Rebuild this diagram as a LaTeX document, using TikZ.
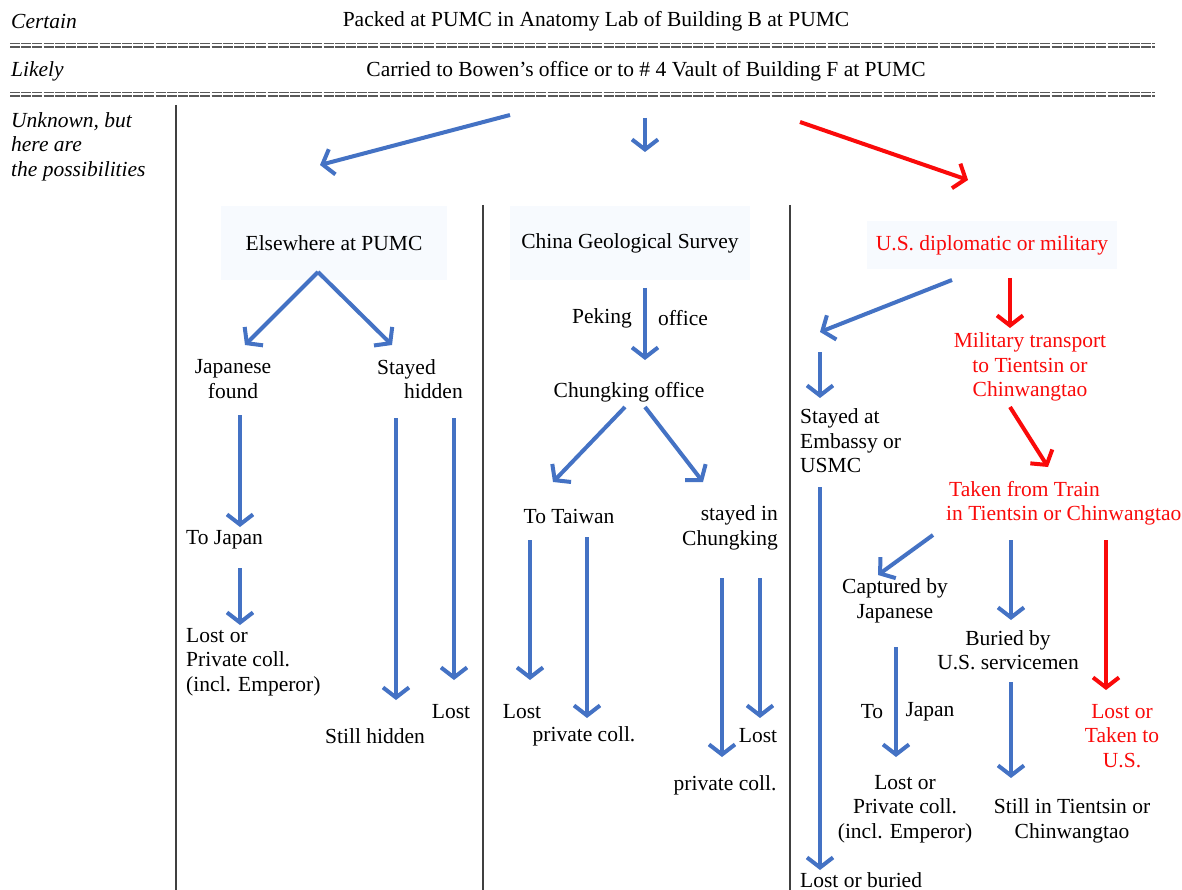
\documentclass[tikz,border=0pt]{standalone}
\usepackage{fontspec}
\setmainfont{Liberation Serif}
\usetikzlibrary{arrows.meta,calc}
\definecolor{arrblue}{RGB}{68,114,196}
\definecolor{arrred}{RGB}{250,10,10}
\definecolor{tint}{RGB}{247,250,254}
\tikzset{
  lbl/.style={inner sep=0pt, font=\fontsize{21.5}{24.5}\selectfont},
  italbl/.style={inner sep=0pt, font=\fontsize{21.5}{24.5}\selectfont\itshape},
  redlbl/.style={lbl, text=arrred},
  tintbox/.style={fill=tint, minimum height=74pt},
  flow/.style={line width=4pt, -{Straight Barb[length=10pt,width=26pt]}},
  bluearr/.style={flow, draw=arrblue},
  redarr/.style={flow, draw=arrred},
  colrule/.style={line width=1.3pt, black!75},
  seprule/.style={line width=1.4pt, black!65, dash pattern=on 10pt off 1.2pt}
}

\begin{document}
\begin{tikzpicture}[x=1pt,y=-1pt]
  \useasboundingbox[fill=white] (0,0) rectangle (1182,890);

  % levels
  \node[italbl,anchor=west] (certain) at (11,21) {Certain};
  \node[italbl,anchor=west] (likely) at (11,71) {Likely};
  \node[italbl,anchor=west,align=left] (unknown) at (11,146.5) {Unknown, but\\here are\\the possibilities};

  \node[lbl] (packed) at (596,21) {Packed at PUMC in Anatomy Lab of Building B at PUMC};
  \node[lbl] (carried) at (646,71) {Carried to Bowen's office or to \# 4 Vault of Building F at PUMC};

  \foreach \y in {43.5,47,92.5,96}
    \draw[seprule] (10,\y) -- (1155,\y);

  \draw[colrule] (176,105) -- (176,890);
  \draw[colrule] (483,205) -- (483,890);
  \draw[colrule] (790,205) -- (790,890);

  % column 1
  \node[lbl,tintbox,minimum width=226pt] (elsewhere) at (334,243) {Elsewhere at PUMC};
  \node[lbl,align=center] (japfound) at (233,379) {Japanese\\found};
  \node[lbl,align=left] (stayed) at (420,379) {Stayed\\\hspace*{27pt}hidden};
  \node[lbl,anchor=west] (tojapan) at (186,540) {To Japan};
  \node[lbl,anchor=west,align=left] (lostpriv) at (186,662) {Lost or\\Private coll.\\(incl. Emperor)};
  \node[lbl] (stillhidden) at (375,736) {Still hidden};
  \node[lbl] (lostA) at (451,712) {Lost};

  % column 2
  \node[lbl,tintbox,minimum width=240pt] (survey) at (630,243) {China Geological Survey};
  \node[lbl] (peking) at (602,318) {Peking};
  \node[lbl] (office) at (683,318) {office};
  \node[lbl] (chungking) at (629,392) {Chungking office};
  \node[lbl] (taiwan) at (569,516) {To Taiwan};
  \node[lbl,anchor=east,align=right] (stayedin) at (778,528) {stayed in\\Chungking};
  \node[lbl] (lostB) at (522,712) {Lost};
  \node[lbl] (privB) at (584,736) {private coll.};
  \node[lbl] (privC) at (725,785) {private coll.};
  \node[lbl] (lostC) at (758,736) {Lost};

  % column 3
  \node[redlbl,tintbox,minimum width=250pt,minimum height=48pt] (usdip) at (992,245) {U.S. diplomatic or military};
  \node[redlbl,align=center] (military) at (1030,367) {Military transport\\to Tientsin or\\Chinwangtao};
  \node[lbl,anchor=west,align=left] (embassy) at (800,441) {Stayed at\\Embassy or\\USMC};
  \node[redlbl,anchor=west,align=left] (train) at (946,503) {\hspace*{3pt}Taken from Train\\in Tientsin or Chinwangtao};
  \node[lbl,align=center] (captured) at (895,601) {Captured by\\Japanese};
  \node[lbl,align=center] (buried) at (1008,650) {Buried by\\U.S. servicemen};
  \node[redlbl,align=center] (lostus) at (1122,736) {Lost or\\Taken to\\U.S.};
  \node[lbl] (toD) at (872,712) {To};
  \node[lbl] (japanD) at (930,712) {Japan};
  \node[lbl,align=center] (lostprivD) at (905,809) {Lost or\\Private coll.\\(incl. Emperor)};
  \node[lbl,align=center] (stilltien) at (1072,821) {Still in Tientsin or\\Chinwangtao};
  \node[lbl,anchor=west] (lostburied) at (800,880) {Lost or buried};

  % arrows from the top
  \draw[bluearr] ($(carried)+(-136,44)$) -- ($(elsewhere)+(-14,-78)$);
  \draw[bluearr] ($(carried)+(-1,47)$) -- ($(survey)+(15,-91)$);
  \draw[redarr] ($(carried)+(154,51)$) -- ($(usdip)+(-24,-65)$);

  % arrows, column 1
  \draw[bluearr] ($(elsewhere)+(-16,29)$) -- ($(japfound)+(12,-34)$);
  \draw[bluearr] ($(elsewhere)+(-16,29)$) -- ($(stayed)+(-28,-34)$);
  \draw[bluearr] ($(japfound)+(7,36)$) -- ($(tojapan.west)+(54,-13)$);
  \draw[bluearr] ($(tojapan.west)+(54,28)$) -- ($(lostpriv.west)+(54,-37)$);
  \draw[bluearr] ($(stayed)+(-24,39)$) -- ($(stillhidden)+(21,-36)$);
  \draw[bluearr] ($(stayed)+(34,39)$) -- ($(lostA)+(3,-32)$);

  % arrows, column 2
  \draw[bluearr] ($(survey)+(15,45)$) -- ($(chungking)+(16,-32)$);
  \draw[bluearr] ($(chungking)+(-4,15)$) -- ($(taiwan)+(-16,-34)$);
  \draw[bluearr] ($(chungking)+(16,15)$) -- ($(stayedin.east)+(-75,-46)$);
  \draw[bluearr] ($(taiwan)+(-39,24)$) -- ($(lostB)+(8,-32)$);
  \draw[bluearr] ($(taiwan)+(18,21)$) -- ($(privB)+(3,-18)$);
  \draw[bluearr] ($(stayedin.east)+(-56,50)$) -- ($(privC)+(-3,-28)$);
  \draw[bluearr] ($(stayedin.east)+(-18,50)$) -- ($(lostC)+(2,-18)$);

  % arrows, column 3
  \draw[bluearr] ($(usdip)+(-40,35)$) -- ($(embassy.west)+(20,-109)$);
  \draw[bluearr] ($(embassy.west)+(20,-89)$) -- ($(embassy.west)+(20,-43)$);
  \draw[bluearr] ($(embassy.west)+(20,46)$) -- ($(lostburied.west)+(20,-10)$);
  \draw[redarr] ($(usdip)+(18,33)$) -- ($(military)+(-20,-39)$);
  \draw[redarr] ($(military)+(-20,40)$) -- ($(train.west)+(102,-36)$);
  \draw[bluearr] ($(train.west)+(-13,32)$) -- ($(captured)+(-17,-26)$);
  \draw[bluearr] ($(train.west)+(65,37)$) -- ($(buried)+(3,-30)$);
  \draw[redarr] ($(train.west)+(160,37)$) -- ($(lostus)+(-16,-46)$);
  \draw[bluearr] ($(captured)+(1,46)$) -- ($(lostprivD)+(-9,-52)$);
  \draw[bluearr] ($(buried)+(3,32)$) -- ($(stilltien)+(-61,-43)$);
\end{tikzpicture}
\end{document}
